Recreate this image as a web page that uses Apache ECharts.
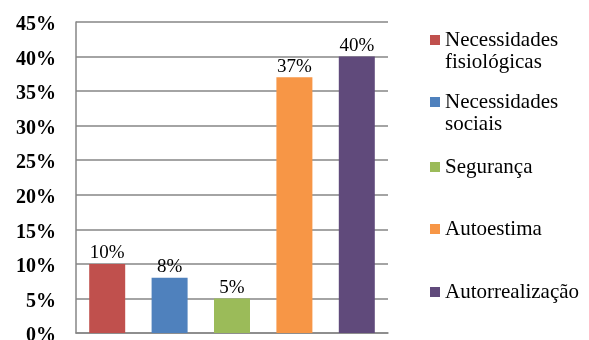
<!DOCTYPE html>
<html><head><meta charset="utf-8">
<script src="https://cdn.jsdelivr.net/npm/echarts@6/dist/echarts.min.js"></script>
<style>html,body{margin:0;padding:0;background:#fff}#c{width:589px;height:340px}</style>
</head><body><div id="c"></div>
<script>
var categories = ['Necessidades fisiológicas', 'Necessidades sociais', 'Segurança', 'Autoestima', 'Autorrealização'];
var legendLabels = ['Necessidades\nfisiológicas', 'Necessidades\nsociais', 'Segurança', 'Autoestima', 'Autorrealização'];
var values = [10, 8, 5, 37, 40];
var colors = ['#C0504D', '#4F81BD', '#9BBB59', '#F79646', '#604A7B'];
var yTicks = [0, 5, 10, 15, 20, 25, 30, 35, 40, 45];

var FONT = '"Liberation Serif", "Times New Roman", serif';
var chart = echarts.init(document.getElementById('c'));
var series = categories.map(function (name, i) {
  var d = categories.map(function (_, j) { return j === i ? values[i] : null; });
  return {
    name: name, type: 'bar', stack: 'all', data: d, barWidth: 36,
    itemStyle: { color: colors[i] },
    label: { show: true, position: 'top', distance: 1, formatter: '{c}%',
      fontFamily: FONT, fontSize: 19, color: '#000' }
  };
});
var legendTops = [40, 102, 167, 229, 292];
var LH = 22;
var legends = categories.map(function (name, i) {
  var twoLine = legendLabels[i].indexOf('\n') >= 0;
  return {
    data: [name], left: 430, top: legendTops[i] - (twoLine ? 1.5 * LH : 0.5 * LH), orient: 'vertical',
    icon: 'rect', itemWidth: 10, itemHeight: 10, itemGap: 4, padding: 0,
    formatter: function () {
      return twoLine ? '{e| }\n{t|' + legendLabels[i].split('\n').join('}\n{t|') + '}' : '{t|' + legendLabels[i] + '}';
    },
    textStyle: { fontFamily: FONT, fontSize: 21, color: '#000', lineHeight: LH,
      rich: { t: { fontFamily: FONT, fontSize: 21, color: '#000', lineHeight: LH },
              e: { fontFamily: FONT, fontSize: 21, lineHeight: LH } } }
  };
});
chart.setOption({
  animation: false,
  grid: { left: 76, right: 201, top: 22, bottom: 7, containLabel: false, outerBoundsMode: 'none' },
  legend: legends,
  xAxis: { type: 'category', data: categories,
    axisLine: { lineStyle: { color: '#868686', width: 1.5 } },
    axisTick: { show: false }, axisLabel: { show: false } },
  yAxis: { type: 'value', min: yTicks[0], max: yTicks[yTicks.length - 1], interval: 5,
    axisLine: { show: true, lineStyle: { color: '#868686', width: 1.5 } },
    axisTick: { show: false },
    splitLine: { lineStyle: { color: '#868686', width: 1.5 } },
    axisLabel: { formatter: '{value}%', fontFamily: FONT, fontWeight: 'bold', fontSize: 20,
      color: '#000', margin: 20, verticalAlign: 'top', lineHeight: 6 } },
  series: series
});
</script></body></html>
